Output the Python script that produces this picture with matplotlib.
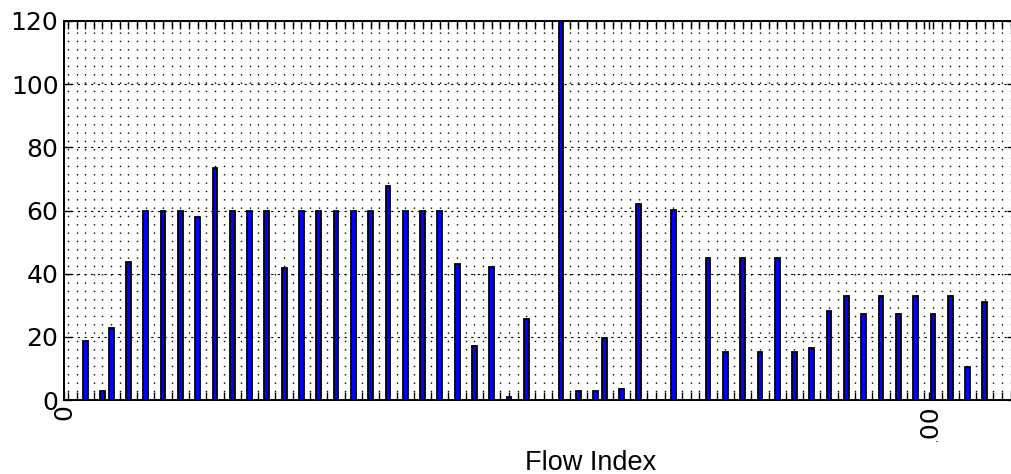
import numpy as np
import matplotlib
matplotlib.use('Agg')
import matplotlib.pyplot as plt
from matplotlib.transforms import Bbox

# flow index -> value (other indices are zero)
flow_idx = [2, 4, 5, 7, 9, 11, 13, 15, 17, 19, 21, 23, 25, 27, 29, 31, 33, 35,
            37, 39, 41, 43, 45, 47, 49, 51, 53, 57, 59, 61, 62, 64, 66, 70,
            74, 76, 78, 80, 82, 84, 86, 88, 90, 92, 94, 96, 98, 100, 102, 104, 106]
values = [18.8, 3.0, 22.9, 43.8, 60, 60, 60, 57.8, 73.5, 60, 60, 60, 41.9, 60, 60, 60, 60, 60,
          67.6, 60, 60, 60, 43.1, 17.1, 42.2, 1.0, 25.6, 120, 3.0, 3.0, 19.5, 3.4, 62.2, 60.1,
          45, 15.3, 45, 15.3, 45, 15.3, 16.6, 28.3, 32.8, 27.3, 32.8, 27.3, 32.8, 27.3, 32.8, 10.4, 31.1]
n_flows = 110
y_ticks = [0, 20, 40, 60, 80, 100, 120]
x_ticks = [0, 100]

W, H = 1011, 474
fig = plt.figure(figsize=(W / 100, H / 100), dpi=100)
# axes runs a little past the right edge of the picture, like the reference
ax = fig.add_axes([64 / W, 74 / H, 951.5 / W, 379 / H])

off = 0.45
x = np.array(flow_idx) + off
ax.bar(x, values, width=0.55, color='#0000ff', edgecolor='black', linewidth=1.3, zorder=3)

ax.set_xlim(0, n_flows)
ax.set_ylim(0, 120)
ax.set_yticks(y_ticks)
ax.set_xticks(x_ticks)
ax.set_xticks(np.arange(n_flows) + off, minor=True)
ax.set_xticklabels([str(t) for t in x_ticks], rotation=90, va='top')

ax.tick_params(which='both', direction='in', top=True, right=True, length=6, width=1,
               labelsize=18, pad=4)
ax.tick_params(axis='x', which='both', pad=3)
for s in ax.spines.values():
    s.set_linewidth(1.4)

ax.grid(axis='x', which='minor', color='black', linestyle=(0, (1, 5)), linewidth=1.0)
ax.grid(axis='y', which='major', color='black', linestyle=(0, (2, 4)), linewidth=0.8)
ax.set_axisbelow(True)

# the "100" tick label is cut off at the bottom in the reference
fig.canvas.draw()
for lbl in ax.get_xticklabels():
    if lbl.get_text() == '100':
        lbl.set_clip_box(Bbox.from_extents(0, H - 442, W, H))
        lbl.set_clip_on(True)

fig.text(591 / W, 4 / H, 'Flow Index', ha='center', va='baseline',
         fontsize=19.5, family='Liberation Sans')

fig.savefig('out.png', dpi=100)
